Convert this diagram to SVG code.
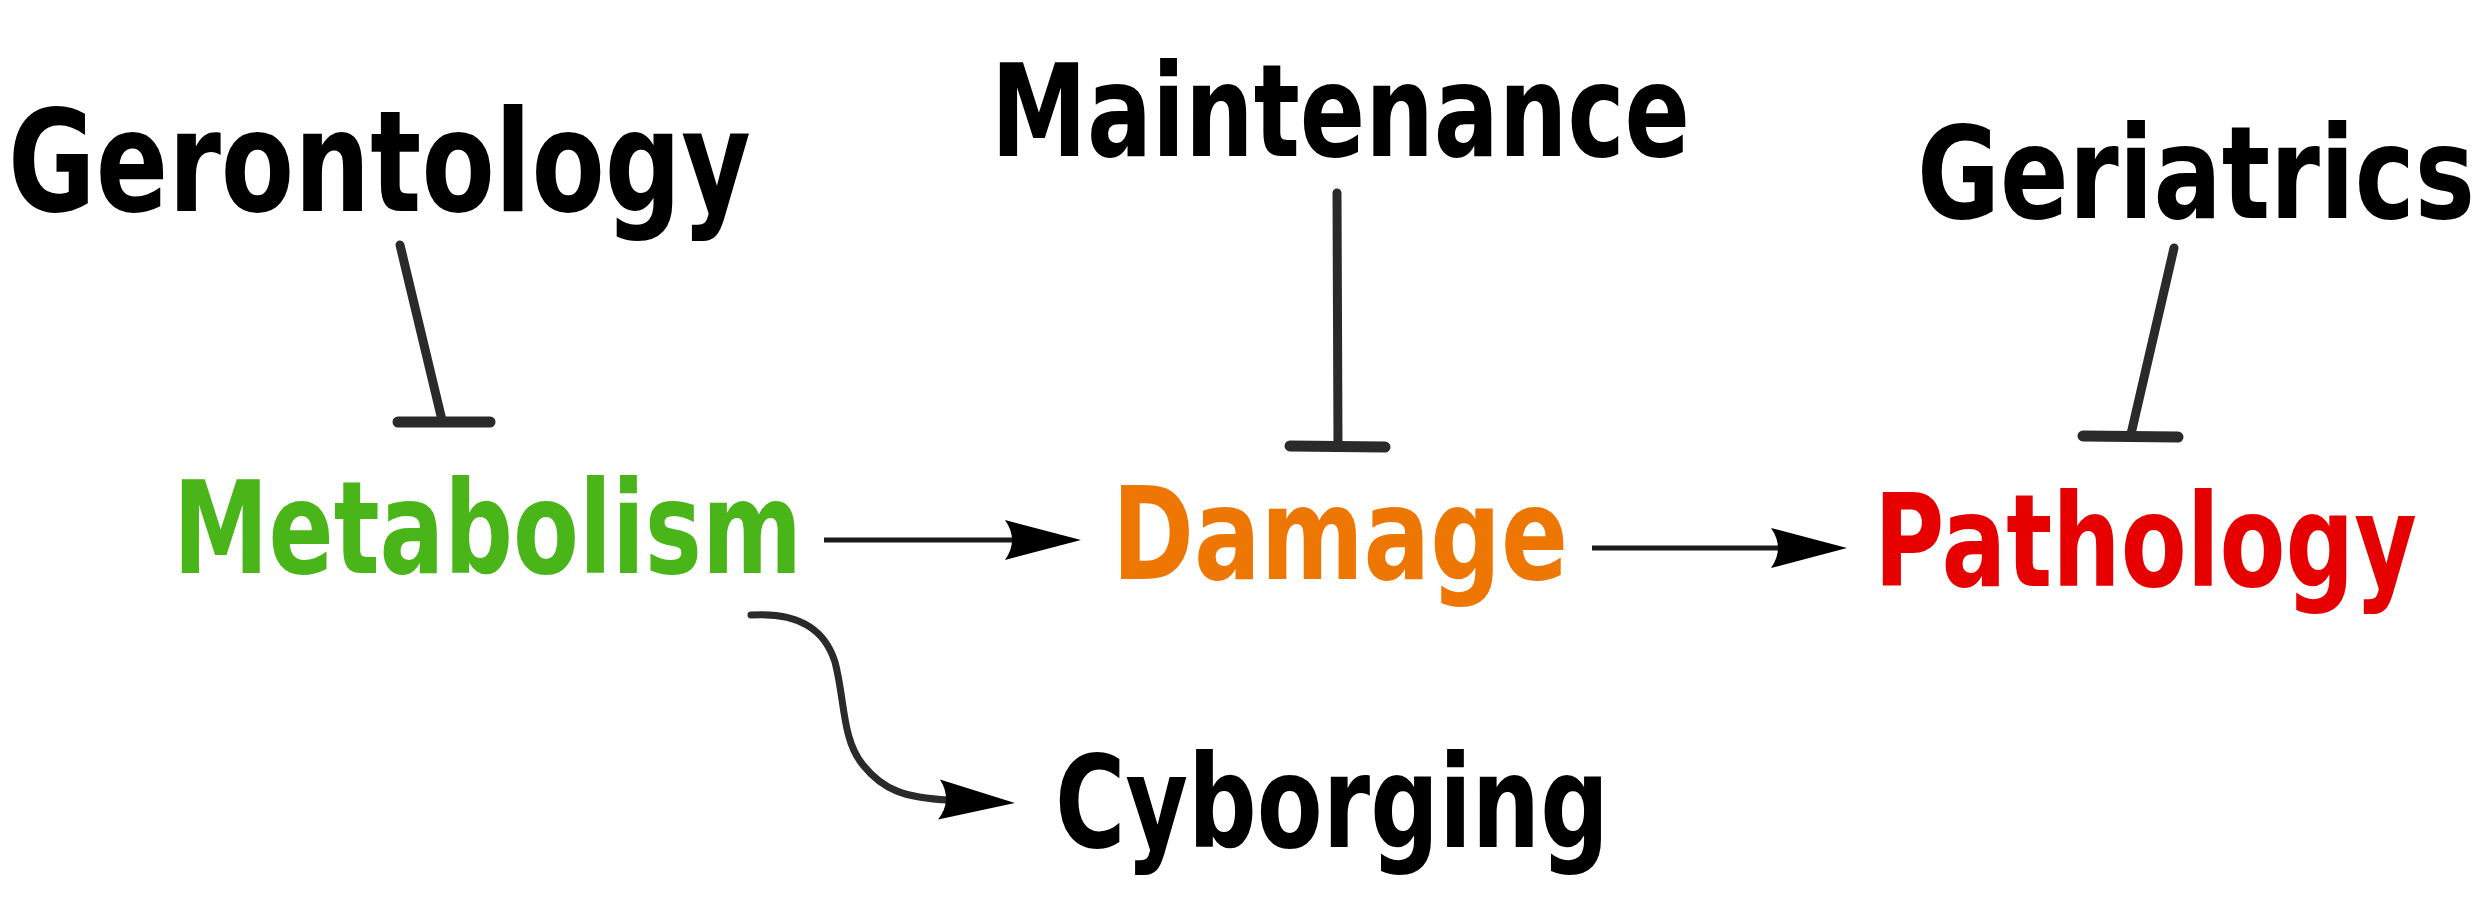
<svg xmlns="http://www.w3.org/2000/svg" width="2486" height="913" viewBox="0 0 2486 913">
<style>
.lbl{font-family:'DejaVu Sans Condensed','DejaVu Sans',sans-serif;font-weight:bold;}
.blk{fill:#000;}
.inh{stroke:#2a2a2a;stroke-width:9;stroke-linecap:round;fill:none;}
.bar{stroke:#2a2a2a;stroke-width:11;stroke-linecap:round;fill:none;}
.arr{stroke:#1a1a1a;stroke-width:5;fill:none;}
.crv{stroke:#2a2a2a;stroke-width:7;stroke-linecap:round;fill:none;}
</style>
<defs>
<marker id="arrow" viewBox="-80 -24 82 48" refX="-66" refY="0" markerWidth="82" markerHeight="48" markerUnits="userSpaceOnUse" orient="auto">
<path d="M0,0 L-76,-20 Q-62,0 -76,20 Z" fill="#000"/>
</marker>
</defs>
<rect width="2486" height="913" fill="#fff"/>
<g id="connectors">
<line class="inh" x1="400" y1="245" x2="442" y2="420"/>
<line class="bar" x1="398" y1="422" x2="490" y2="422"/>
<line class="inh" x1="1337" y1="193" x2="1338" y2="445"/>
<line class="bar" x1="1290" y1="446" x2="1385" y2="447"/>
<line class="inh" x1="2174" y1="248" x2="2131" y2="434"/>
<line class="bar" x1="2083" y1="436" x2="2178" y2="437"/>
<line class="arr" x1="824" y1="540" x2="1015" y2="540" marker-end="url(#arrow)"/>
<line class="arr" x1="1592" y1="548" x2="1781" y2="548" marker-end="url(#arrow)"/>
<path class="crv" d="M751,615 C800,612 825,630 835,662 C845,700 842,740 863,765 C883,790 905,798 949,800" marker-end="url(#arrow)"/>
</g>
<g id="gerontology"><text class="lbl blk" x="8" y="211" font-size="141" textLength="743" lengthAdjust="spacingAndGlyphs">Gerontology</text></g>
<g id="maintenance"><text class="lbl blk" x="991" y="156" font-size="129" textLength="699" lengthAdjust="spacingAndGlyphs">Maintenance</text></g>
<g id="geriatrics"><text class="lbl blk" x="1917" y="218" font-size="128" textLength="558" lengthAdjust="spacingAndGlyphs">Geriatrics</text></g>
<g id="metabolism"><text class="lbl" fill="#49b519" x="173" y="573" font-size="129" textLength="629" lengthAdjust="spacingAndGlyphs">Metabolism</text></g>
<g id="damage"><text class="lbl" fill="#ee7703" x="1112" y="579" font-size="129" textLength="456" lengthAdjust="spacingAndGlyphs">Damage</text></g>
<g id="pathology"><text class="lbl" fill="#e60000" x="1874" y="586" font-size="129" textLength="543" lengthAdjust="spacingAndGlyphs">Pathology</text></g>
<g id="cyborging"><text class="lbl blk" x="1055" y="847" font-size="129" textLength="554" lengthAdjust="spacingAndGlyphs">Cyborging</text></g>
</svg>
